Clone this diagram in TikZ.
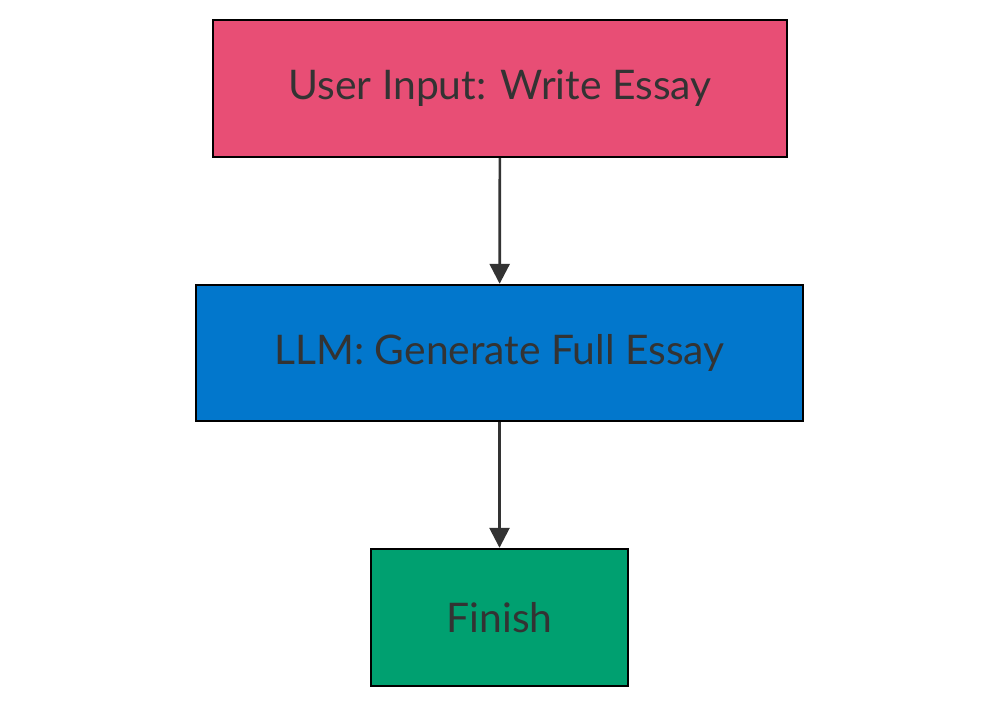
\documentclass[tikz,border=0pt]{standalone}
\usepackage{fontspec}
\setmainfont{Lato}
\usetikzlibrary{arrows.meta}
\definecolor{r232g78b117}{RGB}{232,78,117}
\definecolor{r2g119b204}{RGB}{2,119,204}
\definecolor{r0g160b112}{RGB}{0,160,112}
\definecolor{r51g51b51}{RGB}{51,51,51}
\begin{document}
\begin{tikzpicture}[x=0.75pt,y=-0.75pt,
    stepbox/.style={draw=black,line width=1.8pt,text=r51g51b51,font=\fontsize{30.6}{34}\selectfont,inner sep=0pt},
    link/.style={draw=r51g51b51,line width=2pt,-{Triangle[length=15pt,width=15pt]}}]
            \useasboundingbox (0,0) rectangle (1000,707);
            
            % Drawing box input
            \node [stepbox,fill=r232g78b117,minimum width=430.5pt,minimum height=102.75pt] (input) at (500,88.5) {User Input: Write Essay};%
            
            % Drawing box llm
            \node [stepbox,fill=r2g119b204,minimum width=455.25pt,minimum height=102pt] (llm) at (499.5,353) {LLM: Generate Full Essay};%
            
            % Drawing box finish
            \node [stepbox,fill=r0g160b112,minimum width=192.75pt,minimum height=102.75pt] (finish) at (499.5,617.5) {Finish};%
            
            % Drawing links
            \draw [link] (input) -- (llm);%
            \draw [link] (llm) -- (finish);%
            
\end{tikzpicture}
\end{document}
